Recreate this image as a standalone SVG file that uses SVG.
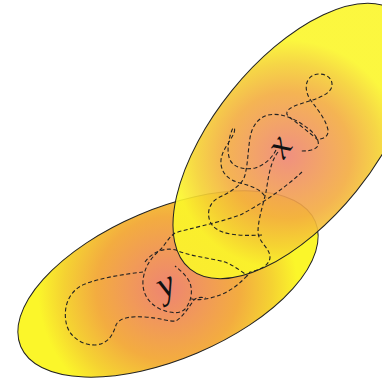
<svg xmlns="http://www.w3.org/2000/svg" width="382" height="379" viewBox="0 0 382 379">
<defs>
<radialGradient id="gx" gradientUnits="userSpaceOnUse" cx="279" cy="145" r="115">
<stop offset="0" stop-color="#ee8472"/>
<stop offset="0.3" stop-color="#f19a58"/>
<stop offset="0.55" stop-color="#f3ac40"/>
<stop offset="0.8" stop-color="#f5d232"/>
<stop offset="1" stop-color="#fbf62a"/>
</radialGradient>
<radialGradient id="gy" gradientUnits="userSpaceOnUse" cx="166" cy="288" r="130">
<stop offset="0" stop-color="#ee8472"/>
<stop offset="0.3" stop-color="#f19a58"/>
<stop offset="0.55" stop-color="#f3ac40"/>
<stop offset="0.8" stop-color="#f5d232"/>
<stop offset="1" stop-color="#fbf62a"/>
</radialGradient>
</defs>
<style>
.ell{stroke:#222;stroke-width:1}
.dash{fill:none;stroke:#222;stroke-width:1.1;stroke-dasharray:4,2.5}
.lbl{font-family:"Liberation Serif",serif;font-style:italic;font-size:38px;fill:#111}
</style>
<rect width="382" height="379" fill="#fff"/>
<g id="set-y">
<ellipse class="ell" cx="168" cy="284" rx="160" ry="75" transform="rotate(-23 168 284)" fill="url(#gy)"/>
</g>
<g id="set-x">
<ellipse class="ell" cx="294" cy="141" rx="165" ry="80" transform="rotate(-51 294 141)" fill="url(#gx)" fill-opacity="0.9"/>
</g>
<g id="paths">
<path class="dash" d="M262,235 C245,236 222,236 213,226 C206,218 207,204 218,198 C230,192 242,186 245,175 C248,163 248,150 250,138 C252,126 258,118 268,115 C282,112 298,120 310,130 C318,137 322,146 314,149 C310,151 305,151 300,151"/>
<path class="dash" d="M318,140 C310,133 296,122 289,117 C283,112 290,107 300,104 C312,100 330,96 332,86 C333,76 322,72 314,75 C304,79 304,92 312,102 C318,110 326,120 328,130 C329,137 322,140 316,139"/>
<path class="dash" d="M276,150 C272,158 265,165 255,168 C245,170 234,168 230,160 C226,150 229,138 232,130 C233,127 236,127 234,133 C230,142 222,150 221,160 C220,172 228,180 240,183 C252,186 262,190 266,198"/>
<path class="dash" d="M278,152 C270,162 268,180 266,192 C263,205 258,220 258,232 C258,242 270,248 270,257 C270,265 260,270 250,272 C240,285 225,296 205,299 C198,300 193,300 190,298"/>
<path class="dash" d="M302,172 C285,188 260,205 240,215 C215,224 190,228 175,233 C168,238 165,245 160,250 C152,257 145,265 143,280 C142,293 148,303 160,309 C170,313 180,315 186,308 C191,301 193,292 190,283 C187,276 180,270 175,266"/>
<path class="dash" d="M143,272 C125,274 100,278 85,284 C70,290 63,305 66,322 C68,335 80,345 95,345 C108,344 113,335 116,325 C119,318 130,316 145,317 C160,318 170,322 176,321 C184,316 190,305 194,300 C197,297 202,297 206,298"/>
<path class="dash" d="M145,262 C152,252 165,247 176,250 C188,256 210,258 225,262 C235,266 242,272 248,276"/>
</g>
<g id="labels">
<text class="lbl" x="279" y="158" text-anchor="middle" transform="rotate(-55 279 146)">x</text>
<text class="lbl" x="167" y="296" text-anchor="middle" transform="rotate(-26 167 288)">y</text>
</g>
</svg>
